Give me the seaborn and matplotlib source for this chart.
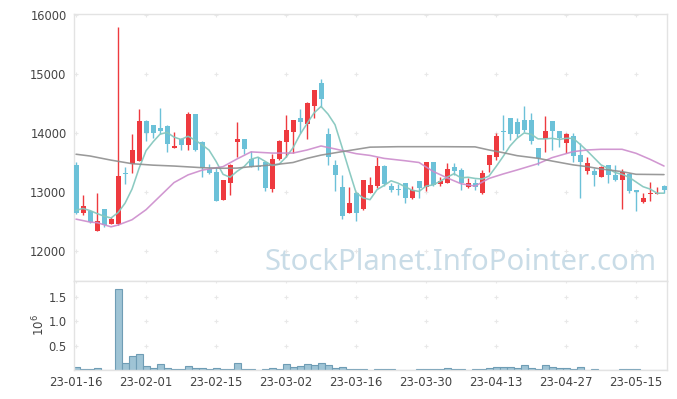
import numpy as np
import pandas as pd
import matplotlib
matplotlib.use("Agg")
import matplotlib.pyplot as plt
import seaborn as sns

# daily candles, x is the trading-day index (0 = 23-01-16)
opens = [13450, 12650, 12680, 12340, 12710, 12460, 12450, 13320, 13470, 13530,
         14210, 14130, 14080, 14120, 13750, 13900, 13800, 14320, 13850, 13390,
         13340, 12870, 13160, 13840, 13900, 13560, 13440, 13500, 13050, 13560,
         13840, 14020, 14250, 14150, 14450, 14850, 13990, 13460, 13090, 12650,
         12990, 12710, 12990, 13110, 13440, 13100, 13050, 13150, 12890, 13190,
         13080, 13510, 13140, 13160, 13420, 13370, 13080, 13160, 12990, 13460,
         13600, 14030, 14250, 14190, 14220, 14220, 13740, 13890, 14200, 14030,
         13830, 13950, 13630, 13350, 13350, 13260, 13450, 13290, 13210, 13310,
         13030, 12830, 12970, 12970, 13110]
highs = [13500, 12950, 12700, 12990, 12720, 12580, 15790, 13430, 13980, 14400,
         14220, 14140, 14430, 14130, 14010, 13920, 14350, 14330, 13860, 13470,
         13430, 13210, 13470, 14190, 13900, 13700, 13600, 13510, 13640, 13880,
         14300, 14220, 14400, 14520, 14730, 14910, 14090, 13540, 13290, 13090,
         13000, 13210, 13260, 13600, 13450, 13160, 13140, 13160, 13100, 13190,
         13510, 13510, 13260, 13490, 13490, 13400, 13230, 13220, 13370, 13630,
         14000, 14300, 14250, 14250, 14460, 14340, 13750, 14280, 14200, 14040,
         14000, 14000, 13830, 13600, 13400, 13440, 13460, 13450, 13390, 13320,
         13040, 12990, 13170, 13080, 13120]
lows = [12630, 12610, 12470, 12340, 12400, 12450, 12440, 13130, 13320, 13520,
        13860, 13920, 13990, 13680, 13750, 13710, 13710, 13700, 13250, 13310,
        12840, 12860, 12950, 13600, 13650, 13420, 13380, 13020, 13000, 13540,
        13600, 13660, 14000, 13890, 14250, 14440, 13460, 13020, 12540, 12640,
        12500, 12700, 12980, 13060, 13110, 13000, 12950, 12810, 12880, 12890,
        13020, 13100, 13110, 13150, 13290, 13030, 13070, 13030, 12970, 13340,
        13540, 13710, 13880, 13940, 14020, 13820, 13460, 13680, 13710, 13770,
        13660, 13510, 12890, 13300, 13100, 13250, 13150, 13180, 12710, 12990,
        12680, 12820, 12850, 12960, 12990]
closes = [12650, 12760, 12490, 12510, 12440, 12540, 13270, 13300, 13710, 14210,
          14000, 14000, 14040, 13810, 13780, 13790, 14320, 13720, 13400, 13330,
          12850, 13200, 13460, 13890, 13730, 13430, 13420, 13070, 13560, 13860,
          14050, 14220, 14190, 14510, 14730, 14580, 13600, 13280, 12600, 12810,
          12640, 13200, 13120, 13440, 13140, 13030, 13040, 12890, 13030, 13070,
          13510, 13120, 13180, 13390, 13360, 13150, 13150, 13090, 13330, 13620,
          13950, 14020, 13980, 13990, 14050, 13870, 13580, 14030, 14040, 13910,
          13980, 13610, 13510, 13490, 13280, 13420, 13280, 13200, 13340, 13020,
          13000, 12900, 12980, 12990, 13030]
volumes = [60000, 25000, 25000, 45000, 0, 0, 1660000, 150000, 290000, 330000,
           80000, 45000, 125000, 45000, 20000, 20000, 80000, 45000, 45000, 25000,
           45000, 25000, 25000, 145000, 25000, 25000, 0, 20000, 45000, 20000,
           120000, 65000, 80000, 120000, 100000, 145000, 100000, 45000, 60000, 25000,
           25000, 25000, 0, 25000, 25000, 25000, 0, 0, 0, 25000,
           25000, 25000, 25000, 40000, 25000, 25000, 0, 25000, 25000, 40000,
           60000, 60000, 60000, 40000, 100000, 40000, 20000, 100000, 60000, 45000,
           45000, 25000, 60000, 0, 20000, 0, 0, 0, 25000, 25000,
           25000, 0, 0, 0, 0]

# moving average lines
ma5 = [12690, 12720, 12685, 12635, 12590, 12560, 12650, 12810, 13050, 13400,
       13700, 13850, 13980, 14010, 13930, 13890, 13945, 13880, 13800, 13710,
       13520, 13300, 13250, 13350, 13430, 13555, 13590, 13520, 13450, 13470,
       13590, 13750, 13975, 14160, 14340, 14450, 14320, 14140, 13760, 13370,
       12990, 12900, 12870, 13040, 13110, 13190, 13150, 13090, 13030, 13010,
       13100, 13120, 13180, 13250, 13310, 13240, 13250, 13230, 13220, 13270,
       13430, 13600, 13780, 13910, 14000, 13980, 13900, 13900, 13910, 13890,
       13910, 13910, 13810, 13700, 13580, 13460, 13400, 13330, 13300, 13250,
       13170, 13090, 13050, 12980, 12980]
ma20_x = [0, 2, 3, 5, 6, 8, 10, 12, 14, 16, 18, 21, 23, 25, 28, 31, 33, 35, 37,
          40, 42, 44, 47, 49, 51, 53, 55, 57, 59, 61, 63, 66, 68, 71, 73, 75,
          78, 80, 82, 84]
ma20 = [12540, 12490, 12480, 12410, 12440, 12530, 12700, 12930, 13160, 13290,
        13370, 13430, 13560, 13680, 13660, 13660, 13712, 13780, 13730, 13650,
        13620, 13570, 13530, 13500, 13350, 13240, 13140, 13100, 13230, 13305,
        13373, 13480, 13582, 13684, 13712, 13724, 13724, 13656, 13554, 13440]
ma60_x = [0, 2, 5, 8, 11, 14, 18, 21, 23, 25, 28, 31, 33, 35, 38, 42, 46, 52,
          57, 59, 61, 63, 66, 68, 71, 73, 75, 78, 80, 84]
ma60 = [13640, 13610, 13540, 13480, 13455, 13440, 13412, 13402, 13405, 13430,
        13458, 13500, 13570, 13625, 13684, 13760, 13768, 13768, 13765, 13712,
        13667, 13616, 13571, 13525, 13460, 13430, 13390, 13345, 13300, 13295]

tick_pos = [0, 10, 20, 30, 40, 50, 60, 70, 80]
tick_labels = ["23-01-16", "23-02-01", "23-02-15", "23-03-02", "23-03-16",
               "23-03-30", "23-04-13", "23-04-27", "23-05-15"]
price_ticks = [12000, 13000, 14000, 15000, 16000]
vol_ticks = [500000, 1000000, 1500000]

sns.set_theme(style="white")
plt.rcParams["font.family"] = ["DejaVu Sans"]

df = pd.DataFrame({"o": opens, "h": highs, "l": lows, "c": closes, "v": volumes})
df["x"] = np.arange(len(df))
up = df["c"] >= df["o"]
df["col"] = np.where(up, "#ee3a3f", "#6cc1d8")

fig = plt.figure(figsize=(6.77, 3.99), dpi=100)
ax = fig.add_axes([0.1086, 0.2945, 0.8767, 0.6704])
axv = fig.add_axes([0.1086, 0.0719, 0.8767, 0.2226])

grid_c = "#e3e3e3"
for a in (ax, axv):
    for s in a.spines.values():
        s.set_color(grid_c)
        s.set_linewidth(1.0)
    a.tick_params(length=0, labelsize=8.3, labelcolor="#444444", pad=5)
    a.set_xlim(-0.36, 84.43)

# little crosses at the grid points
gx, gy = np.meshgrid(tick_pos, price_ticks)
ax.scatter(gx.ravel(), gy.ravel(), marker="+", s=12, color="#e8e8e8", linewidths=0.8, zorder=0)
gx, gy = np.meshgrid(tick_pos, vol_ticks + [1812000])
axv.scatter(gx.ravel(), gy.ravel(), marker="+", s=12, color="#e8e8e8", linewidths=0.8, zorder=0)

# candles
ax.vlines(df["x"], df["l"], df["h"], colors=df["col"], linewidth=1.0, zorder=2)
body = (df["c"] - df["o"]).abs().clip(lower=18)
ax.bar(df["x"], body, bottom=df[["o", "c"]].min(axis=1), width=0.72,
       color=df["col"], linewidth=0, zorder=3)

# moving averages
sns.lineplot(x=df["x"], y=ma5, ax=ax, color="#86c8bf", lw=1.15, alpha=0.95, zorder=4)
sns.lineplot(x=ma20_x, y=ma20, ax=ax, color="#cc8ccc", lw=1.15, alpha=0.9, zorder=4)
sns.lineplot(x=ma60_x, y=ma60, ax=ax, color="#8f8f8f", lw=1.15, alpha=0.9, zorder=4)

ax.set_ylim(11483, 16017)
ax.set_yticks(price_ticks)
ax.set_xticks(tick_pos)
ax.set_xticklabels([])
ax.set_xlabel("")
ax.set_ylabel("")

wm = ax.text(0.983, 0.042, "StockPlanet.InfoPointer.com", transform=ax.transAxes,
             ha="right", va="baseline", fontsize=21, color="#c9dce7",
             family="Noto Sans", zorder=1)
fig.canvas.draw()
w = wm.get_window_extent().width
wm.set_fontsize(21 * 393 / w)

# volume
axv.bar(df["x"], df["v"], width=1.0, color="#9fc4d5", edgecolor="#6f9db5",
        linewidth=0.8, zorder=2)
axv.set_ylim(0, 1812000)
axv.set_yticks(vol_ticks)
axv.set_yticklabels(["0.5", "1.0", "1.5"])
axv.set_xticks(tick_pos)
axv.set_xticklabels(tick_labels, fontsize=8.5)
axv.tick_params(axis="x", pad=4)
fig.text(0.057, 0.185, "$10^6$", rotation=90, ha="center", va="center",
         fontsize=8.5, color="#444444")

fig.savefig("out.png", dpi=100)
